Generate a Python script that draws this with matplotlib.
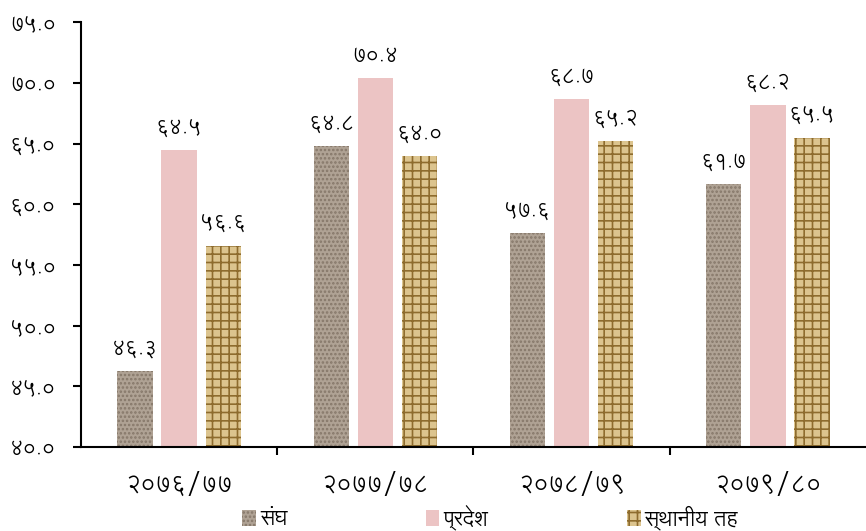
import numpy as np
import matplotlib
matplotlib.use("Agg")
import matplotlib.pyplot as plt
from matplotlib.patches import Patch

plt.rcParams['font.family'] = ['Lohit Devanagari', 'DejaVu Sans']
plt.rcParams['hatch.linewidth'] = 1.2

years = ['२०७६/७७', '२०७७/७८', '२०७८/७९', '२०७९/८०']
sangh = [46.3, 64.8, 57.6, 61.7]
pradesh = [64.5, 70.4, 68.7, 68.2]
sthaniya = [56.6, 64.0, 65.2, 65.5]
series_names = ['संघ', 'प्रदेश', 'स्थानीय तह']

deva = str.maketrans('0123456789', '०१२३४५६७८९')

def to_deva(v):
    return ('%.1f' % v).translate(deva)

fig = plt.figure(figsize=(8.66, 5.31), dpi=100)
ax = fig.add_axes([0.0935, 0.158, 0.9065, 0.80])

x = np.arange(len(years))
w = 0.18
off = 0.225
styles = [
    dict(color='#afa294', edgecolor='#857769', hatch='....'),
    dict(color='#ecc4c4', edgecolor='#ecc4c4', hatch=None),
    dict(color='#dcc48e', edgecolor='#8e6c2e', hatch='++'),
]
handles = []
for i, (vals, st) in enumerate(zip([sangh, pradesh, sthaniya], styles)):
    bars = ax.bar(x + (i - 1) * off, np.array(vals) - 40, w, bottom=40,
                  facecolor=st['color'], edgecolor=st['edgecolor'],
                  hatch=st['hatch'], linewidth=0)
    for b, v in zip(bars, vals):
        ax.annotate(to_deva(v), (b.get_x() + b.get_width() / 2, v),
                    xytext=(0, 9), textcoords='offset points',
                    ha='center', va='bottom', fontsize=15)
    handles.append(Patch(facecolor=st['color'], edgecolor=st['edgecolor'],
                         hatch=st['hatch'], linewidth=0))

ax.set_xlim(-0.5, 3.5)
ax.set_ylim(40, 75)
yt = np.arange(40, 76, 5)
ax.set_yticks(yt)
ax.set_yticklabels([to_deva(v) for v in yt], fontsize=15)
ax.set_xticks([0.5, 1.5, 2.5])
ax.set_xticklabels([])
ax.set_xticks(x, minor=True)
ax.set_xticklabels(years, minor=True, fontsize=17)
ax.tick_params(axis='x', which='minor', length=0, pad=18)
ax.tick_params(axis='x', which='major', length=6, width=1.5, direction='out')
ax.tick_params(axis='y', length=6, width=1.5, direction='out', pad=12)

for s in ['top', 'right']:
    ax.spines[s].set_visible(False)
for s in ['left', 'bottom']:
    ax.spines[s].set_linewidth(1.5)

fig.legend(handles, series_names, loc='center', bbox_to_anchor=(0.566, 0.026),
           ncol=3, frameon=False, fontsize=15, handlelength=0.65, handleheight=0.75,
           handletextpad=0.2, columnspacing=6.65)

fig.savefig('out.png')
